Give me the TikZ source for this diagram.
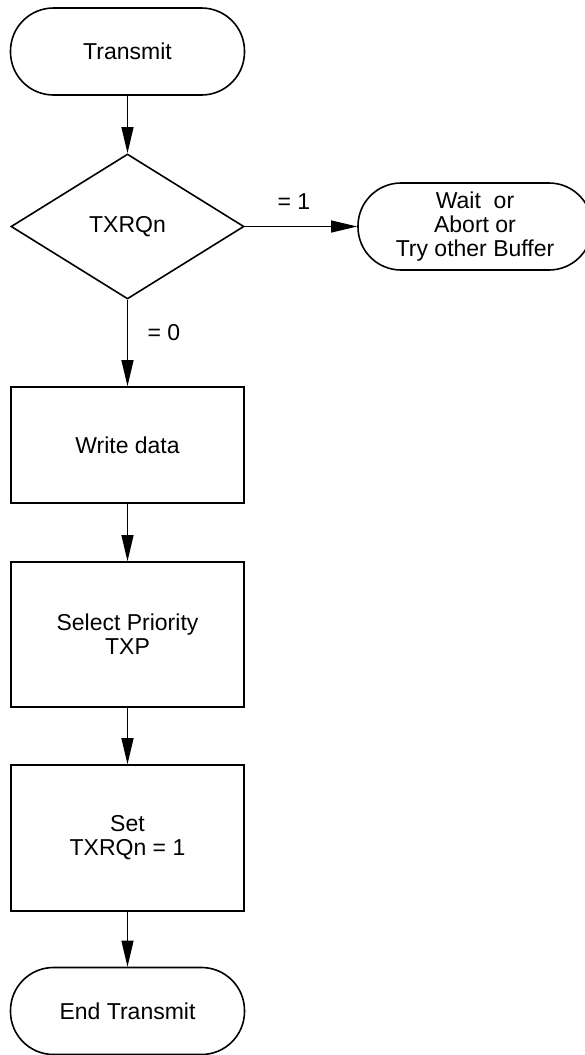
\documentclass[tikz,border=0pt]{standalone}
\usepackage{fontspec}
\setmainfont{Liberation Sans}
\usetikzlibrary{shapes.geometric,arrows.meta}
\tikzset{
  base/.style={draw, line width=1.6pt, inner sep=0pt, align=center, font=\fontsize{23}{24}\selectfont},
  term/.style={base, rectangle, rounded corners=43pt, minimum width=234pt, minimum height=87pt},
  proc/.style={base, rectangle, minimum width=233pt},
  dec/.style={base, diamond, aspect=1.607, minimum width=233pt, minimum height=145pt},
  arr/.style={draw, line width=1pt, -{Triangle[length=26pt,width=12pt]}},
  lbl/.style={font=\fontsize{23}{24}\selectfont, inner sep=0pt}
}
\begin{document}
\begin{tikzpicture}[x=1pt,y=-1pt]
\clip (0,0) rectangle (585,1055);
\fill[white] (0,0) rectangle (585,1055);
\node[term] (t) at (127.5,51.5) {Transmit};
\node[dec] (d) at (127.5,226.5) {TXRQn};
\node[term] (w) at (475,226.5) {Wait\ \ or\\Abort or\\Try other Buffer};
\node[proc, minimum height=116pt] (wd) at (127.5,445) {Write data};
\node[proc, minimum height=145pt] (sp) at (127.5,634.5) {Select Priority\\TXP};
\node[proc, minimum height=146pt] (st) at (127.5,838) {Set\\TXRQn = 1};
\node[term] (e) at (127.5,1011) {End Transmit};
\draw[arr] (t) -- (d);
\draw[arr] (d) -- (w);
\draw[arr] (d) -- (wd);
\draw[arr] (wd) -- (sp);
\draw[arr] (sp) -- (st);
\draw[arr] (st) -- (e);
\node[lbl] (l1) at (294,202) {= 1};
\node[lbl] (l0) at (164,333) {= 0};
\end{tikzpicture}
\end{document}
